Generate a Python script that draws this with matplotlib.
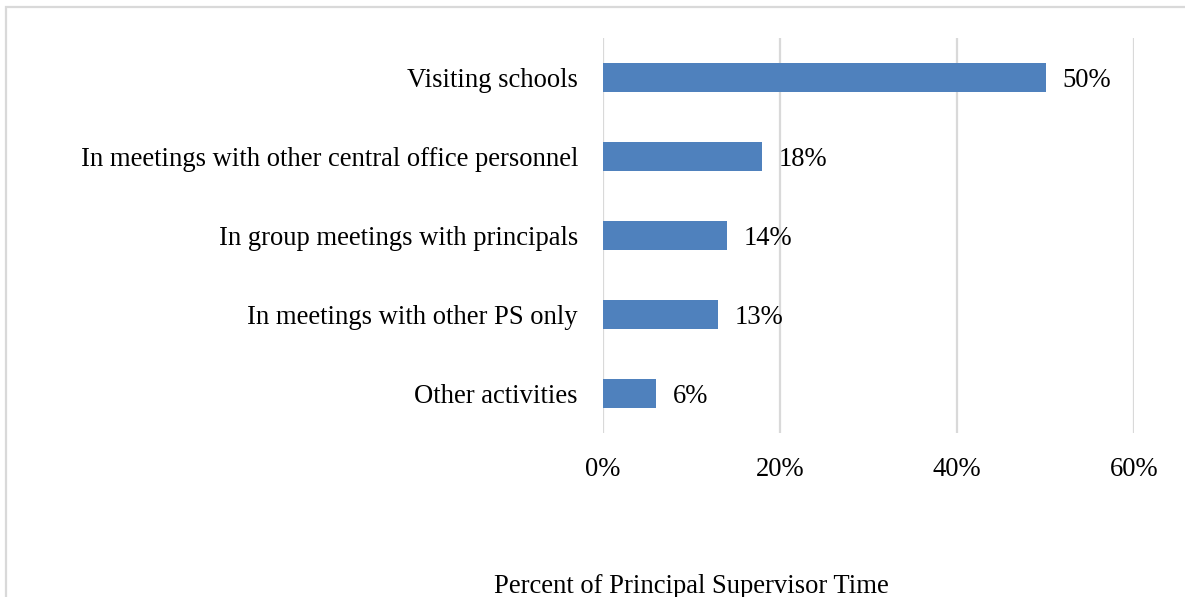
import matplotlib.pyplot as plt
import matplotlib.patches as mpatches

# Share of principal supervisor time by activity
activities = [
    "Visiting schools",
    "In meetings with other central office personnel",
    "In group meetings with principals",
    "In meetings with other PS only",
    "Other activities",
]
percents = [50, 18, 14, 13, 6]
xticks = [0, 20, 40, 60]

plt.rcParams["font.family"] = ["Liberation Serif", "DejaVu Serif"]

W, H = 1185, 597
fig = plt.figure(figsize=(W / 100, H / 100), dpi=100)
ax = fig.add_axes([603 / W, 1 - 433 / H, (1134 - 603) / W, (433 - 38) / H])

bar_color = "#4F81BD"
grid_color = "#D9D9D9"

ypos = list(range(len(activities)))
bars = ax.barh(ypos, percents, height=0.36, color=bar_color, zorder=3)

for bar, val in zip(bars, percents):
    ax.text(
        bar.get_width() + 1.9,
        bar.get_y() + bar.get_height() / 2,
        f"{val}%",
        ha="left",
        va="center_baseline",
        fontsize=19.2,
        color="black",
    )

ax.set_xlim(0, 60)
ax.set_ylim(len(activities) - 0.5, -0.5)
ax.set_yticks(ypos)
ax.set_yticklabels(activities, fontsize=19.2)
ax.set_xticks(xticks)
ax.set_xticklabels([f"{t}%" for t in xticks], fontsize=19.2)
ax.tick_params(axis="both", length=0)
ax.tick_params(axis="y", pad=18)
ax.tick_params(axis="x", pad=17)

ax.grid(axis="x", color=grid_color, linewidth=1.6, zorder=0)
for side in ax.spines.values():
    side.set_visible(False)

# Axis title placed in figure space, partly cut by the lower edge
fig.text(691 / W, 1 - 574 / H, "Percent of Principal Supervisor Time",
         ha="center", va="top", fontsize=19.2)

# Light frame around the chart
frame = mpatches.Rectangle(
    (6 / W, -0.1), 1.2, 1 - 7 / H + 0.1,
    transform=fig.transFigure, fill=False,
    edgecolor=grid_color, linewidth=1.6, clip_on=False,
)
fig.patches.append(frame)

fig.savefig("out.png", dpi=100)
